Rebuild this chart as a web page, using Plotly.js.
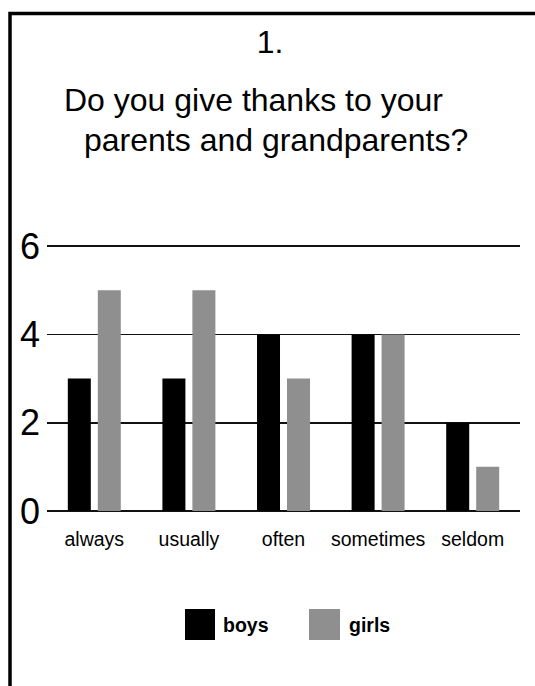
<!DOCTYPE html>
<html>
<head>
<meta charset="utf-8">
<script src="https://cdn.plot.ly/plotly-3.0.1.min.js"></script>
<style>
html,body{margin:0;padding:0;background:#fff;overflow:hidden;}
#wrap{position:relative;width:535px;height:686px;overflow:hidden;}
#chart{width:535px;height:686px;}
</style>
</head>
<body>
<div id="wrap"><div id="chart"></div></div>
<script>
// ---- data ----
const categories = ["always", "usually", "often", "sometimes", "seldom"];
const seriesNames = ["boys", "girls"];
const boysValues = [3, 3, 4, 4, 2];
const girlsValues = [5, 5, 3, 4, 1];
const yTickValues = [0, 2, 4, 6];
const titleLines = ["1.", "Do you give thanks to your", "parents and grandparents?"];

const FONT = "Liberation Sans, Arial, Helvetica, sans-serif";
const colors = ["#000000", "#8f8f8f"];

const traces = [
  {type: "bar", name: seriesNames[0], x: categories, y: boysValues,
   marker: {color: colors[0]}, showlegend: false, hoverinfo: "x+y+name"},
  {type: "bar", name: seriesNames[1], x: categories, y: girlsValues,
   marker: {color: colors[1]}, showlegend: false, hoverinfo: "x+y+name"}
];

// plot area: x 47..520, value 0 at y=511, value 6 at y=246 (range padded a little
// on top so that the 6 gridline is drawn)
const yMax = 6.05;
const unitPx = (511 - 246) / 6;
const W = 535, H = 686;
const L = 47, R = 15, B = H - 511;
const T = Math.round(511 - yMax * unitPx);
const pw = W - L - R, ph = H - T - B;
const px = v => (v - L) / pw;
const py = v => (H - B - v) / ph;

const annotations = [
  {text: titleLines[1], xref: "paper", yref: "paper", x: px(253), y: py(100),
   xanchor: "center", yanchor: "middle", showarrow: false,
   font: {family: FONT, size: 32, color: "#000"}},
  {text: titleLines[2], xref: "paper", yref: "paper", x: px(276), y: py(140),
   xanchor: "center", yanchor: "middle", showarrow: false,
   font: {family: FONT, size: 32, color: "#000"}},
  {text: "<b>" + seriesNames[0] + "</b>", xref: "paper", yref: "paper", x: px(221), y: py(625),
   xanchor: "left", yanchor: "middle", showarrow: false,
   font: {family: FONT, size: 19.5, color: "#000"}},
  {text: "<b>" + seriesNames[1] + "</b>", xref: "paper", yref: "paper", x: px(347), y: py(625),
   xanchor: "left", yanchor: "middle", showarrow: false,
   font: {family: FONT, size: 19.5, color: "#000"}}
];

const shapes = [
  // frame: only the top and left edges are visible in the picture
  {type: "path", xref: "paper", yref: "paper",
   path: "M" + px(10) + "," + py(720) + " L" + px(10) + "," + py(13.5) + " L" + px(535) + "," + py(13.5),
   line: {color: "#000", width: 3.5}, layer: "above"},
  // legend swatches
  {type: "rect", xref: "paper", yref: "paper", x0: px(185), x1: px(215), y0: py(640), y1: py(609),
   line: {width: 0}, fillcolor: colors[0]},
  {type: "rect", xref: "paper", yref: "paper", x0: px(309), x1: px(340), y0: py(640), y1: py(609),
   line: {width: 0}, fillcolor: colors[1]}
];

const layout = {
  width: W, height: H,
  margin: {l: L, r: R, t: T, b: B, pad: 0},
  paper_bgcolor: "#fff", plot_bgcolor: "#fff",
  font: {family: FONT, color: "#000"},
  title: {text: titleLines[0], x: 270 / W, xanchor: "center", xref: "container",
          y: 1 - 42 / H, yanchor: "middle", yref: "container",
          font: {family: FONT, size: 32, color: "#000"}},
  barmode: "group", bargap: 0.366, bargroupgap: 0.233,
  xaxis: {type: "category", showgrid: false, showline: false, zeroline: false, ticks: "",
          ticklabelstandoff: 14,
          tickfont: {family: FONT, size: 19.5, color: "#000"}, fixedrange: true},
  yaxis: {range: [0, yMax], tickvals: yTickValues, ticktext: yTickValues.map(String),
          showgrid: true, gridcolor: "#111", gridwidth: 1.8,
          zeroline: true, zerolinecolor: "#111", zerolinewidth: 1.8,
          showline: false, ticks: "", ticklabelstandoff: 6,
          tickfont: {family: FONT, size: 36, color: "#000"}, fixedrange: true},
  annotations: annotations,
  shapes: shapes,
  showlegend: false
};

Plotly.newPlot("chart", traces, layout, {displayModeBar: false, staticPlot: true});
</script>
</body>
</html>
